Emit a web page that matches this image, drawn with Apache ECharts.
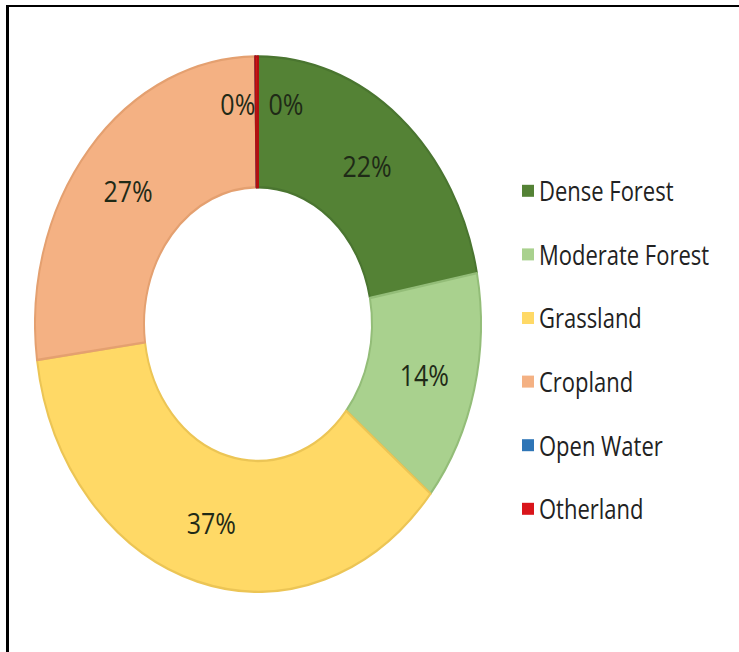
<!DOCTYPE html>
<html>
<head>
<meta charset="utf-8">
<script src="https://cdn.jsdelivr.net/npm/echarts@6/dist/echarts.min.js"></script>
<style>
  html, body { margin: 0; padding: 0; background: #fff; }
  #wrap { position: relative; width: 739px; height: 652px; overflow: hidden; background: #fff; }
  /* the whole chart is drawn on an unscaled canvas, then stretched vertically */
  #chart { position: absolute; left: 0; top: 0; width: 739px; height: 543px;
           transform: scaleY(1.2); transform-origin: 0 0; }
  #frame { position: absolute; left: 6px; top: 5px; width: 740px; height: 660px;
           border-top: 2px solid #000; border-left: 3px solid #000; pointer-events: none; }
</style>
</head>
<body>
<div id="wrap">
  <div id="chart"></div>
  <div id="frame"></div>
</div>
<script>
// Land cover shares (percent)
const categories = ['Dense Forest', 'Moderate Forest', 'Grassland', 'Cropland', 'Open Water', 'Otherland'];
const shares = [22, 14, 37, 27, 0, 0.2];

// fill and outline colours per class
const fillColors = ['#548235', '#a9d18e', '#ffd966', '#f4b183', '#2e75b6', '#d9151b'];
const edgeColors = ['#4a7530', '#93bd78', '#ecc555', '#e4a070', '#2e75b6', '#b01010'];

const labelOffsets = {
  'Open Water': [-18, -13],
  'Otherland': [29, -13]
};

const pieData = categories.map((name, i) => {
  const item = {
    name: name,
    value: shares[i],
    itemStyle: { color: fillColors[i], borderColor: edgeColors[i], borderWidth: 2 }
  };
  if (labelOffsets[name]) item.label = { offset: labelOffsets[name] };
  return item;
});

const chart = echarts.init(document.getElementById('chart'), null, { renderer: 'svg' });
chart.setOption({
  animation: false,
  backgroundColor: 'transparent',
  color: fillColors,
  legend: {
    orient: 'vertical',
    left: 522,
    top: 148,
    padding: 0,
    itemWidth: 12,
    itemHeight: 10,
    itemGap: 31,
    icon: 'rect',
    selectedMode: false,
    itemStyle: { borderWidth: 0 },
    data: categories,
    textStyle: {
      fontFamily: '"Open Sans", sans-serif',
      fontSize: 22,
      lineHeight: 22,
      color: '#222222'
    }
  },
  series: [{
    type: 'pie',
    center: [258, 270],
    radius: [114, 223],
    startAngle: 90,
    clockwise: true,
    avoidLabelOverlap: false,
    emphasis: { disabled: true },
    label: {
      show: true,
      position: 'inside',
      formatter: p => Math.round(p.percent) + '%',
      fontFamily: '"Open Sans", sans-serif',
      fontSize: 25,
      color: '#1f2a17'
    },
    labelLine: { show: false },
    data: pieData
  }]
});
</script>
</body>
</html>
